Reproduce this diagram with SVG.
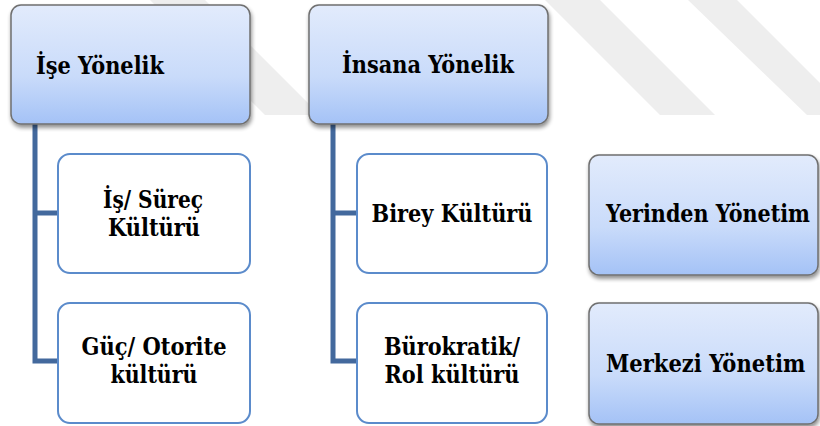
<svg xmlns="http://www.w3.org/2000/svg" width="820" height="426" viewBox="0 0 820 426">
<defs>
<linearGradient id="g" x1="0" y1="0" x2="0" y2="1">
<stop offset="0" stop-color="#e2ebfc"/>
<stop offset="0.6" stop-color="#c9dbfa"/>
<stop offset="1" stop-color="#a4c2f6"/>
</linearGradient>
<filter id="sh" x="-10%" y="-10%" width="125%" height="130%">
<feGaussianBlur in="SourceAlpha" stdDeviation="2"/>
<feOffset dx="1" dy="3" result="b"/>
<feComponentTransfer><feFuncA type="linear" slope="0.45"/></feComponentTransfer>
<feMerge><feMergeNode/><feMergeNode in="SourceGraphic"/></feMerge>
</filter>
</defs>
<style>
.head{fill:url(#g);stroke:#6f6f6f;stroke-width:1.5;filter:url(#sh)}
.child{fill:#ffffff;stroke:#5b8bcb;stroke-width:2}
.conn{fill:none;stroke:#43699d;stroke-width:5;stroke-linejoin:miter}
.t{font-family:"DejaVu Serif","Liberation Serif","Times New Roman",serif;font-weight:bold;font-size:25px;fill:#000000}
.c{text-anchor:middle}
.wm{fill:#eeeeee}
</style>
<rect width="820" height="426" fill="#ffffff"/>
<g id="watermark">
<polygon class="wm" points="150,0 205,0 320,115 265,115"/>
<polygon class="wm" points="545,0 600,0 715,115 660,115"/>
<polygon class="wm" points="688,0 737,0 852,115 807,115"/>
</g>
<g id="connectors">
<path class="conn" d="M35,124 V361 H59"/>
<path class="conn" d="M35,213 H59"/>
<path class="conn" d="M333,124 V361 H357"/>
<path class="conn" d="M333,213 H357"/>
</g>
<g id="n-ise">
<rect class="head" x="11" y="5" width="239" height="119" rx="10"/>
<text class="t" x="36" y="74" textLength="128" lengthAdjust="spacingAndGlyphs">İşe Yönelik</text>
</g>
<g id="n-insana">
<rect class="head" x="309" y="5" width="239" height="119" rx="10"/>
<text class="t" x="342" y="73" textLength="172" lengthAdjust="spacingAndGlyphs">İnsana Yönelik</text>
</g>
<g id="n-is-surec">
<rect class="child" x="58" y="154" width="192" height="119" rx="12"/>
<text class="t c" x="153" y="208" textLength="100" lengthAdjust="spacingAndGlyphs">İş/ Süreç</text>
<text class="t c" x="154" y="236" textLength="92" lengthAdjust="spacingAndGlyphs">Kültürü</text>
</g>
<g id="n-guc">
<rect class="child" x="58" y="303" width="192" height="120" rx="12"/>
<text class="t c" x="154" y="355" textLength="145" lengthAdjust="spacingAndGlyphs">Güç/ Otorite</text>
<text class="t c" x="154" y="383" textLength="87" lengthAdjust="spacingAndGlyphs">kültürü</text>
</g>
<g id="n-birey">
<rect class="child" x="357" y="154" width="190" height="119" rx="12"/>
<text class="t c" x="452" y="222" textLength="161" lengthAdjust="spacingAndGlyphs">Birey Kültürü</text>
</g>
<g id="n-burokratik">
<rect class="child" x="357" y="303" width="190" height="120" rx="12"/>
<text class="t c" x="452" y="355" textLength="136" lengthAdjust="spacingAndGlyphs">Bürokratik/</text>
<text class="t c" x="452" y="383" textLength="135" lengthAdjust="spacingAndGlyphs">Rol kültürü</text>
</g>
<g id="n-yerinden">
<rect class="head" x="589" y="155" width="229" height="120" rx="10"/>
<text class="t" transform="translate(606,222) scale(0.8,1)" x="0" y="0" textLength="255" lengthAdjust="spacingAndGlyphs">Yerinden Yönetim</text>
</g>
<g id="n-merkezi">
<rect class="head" x="589" y="303" width="229" height="121" rx="10"/>
<text class="t" transform="translate(606,372) scale(0.8,1)" x="0" y="0" textLength="249" lengthAdjust="spacingAndGlyphs">Merkezi Yönetim</text>
</g>
</svg>
